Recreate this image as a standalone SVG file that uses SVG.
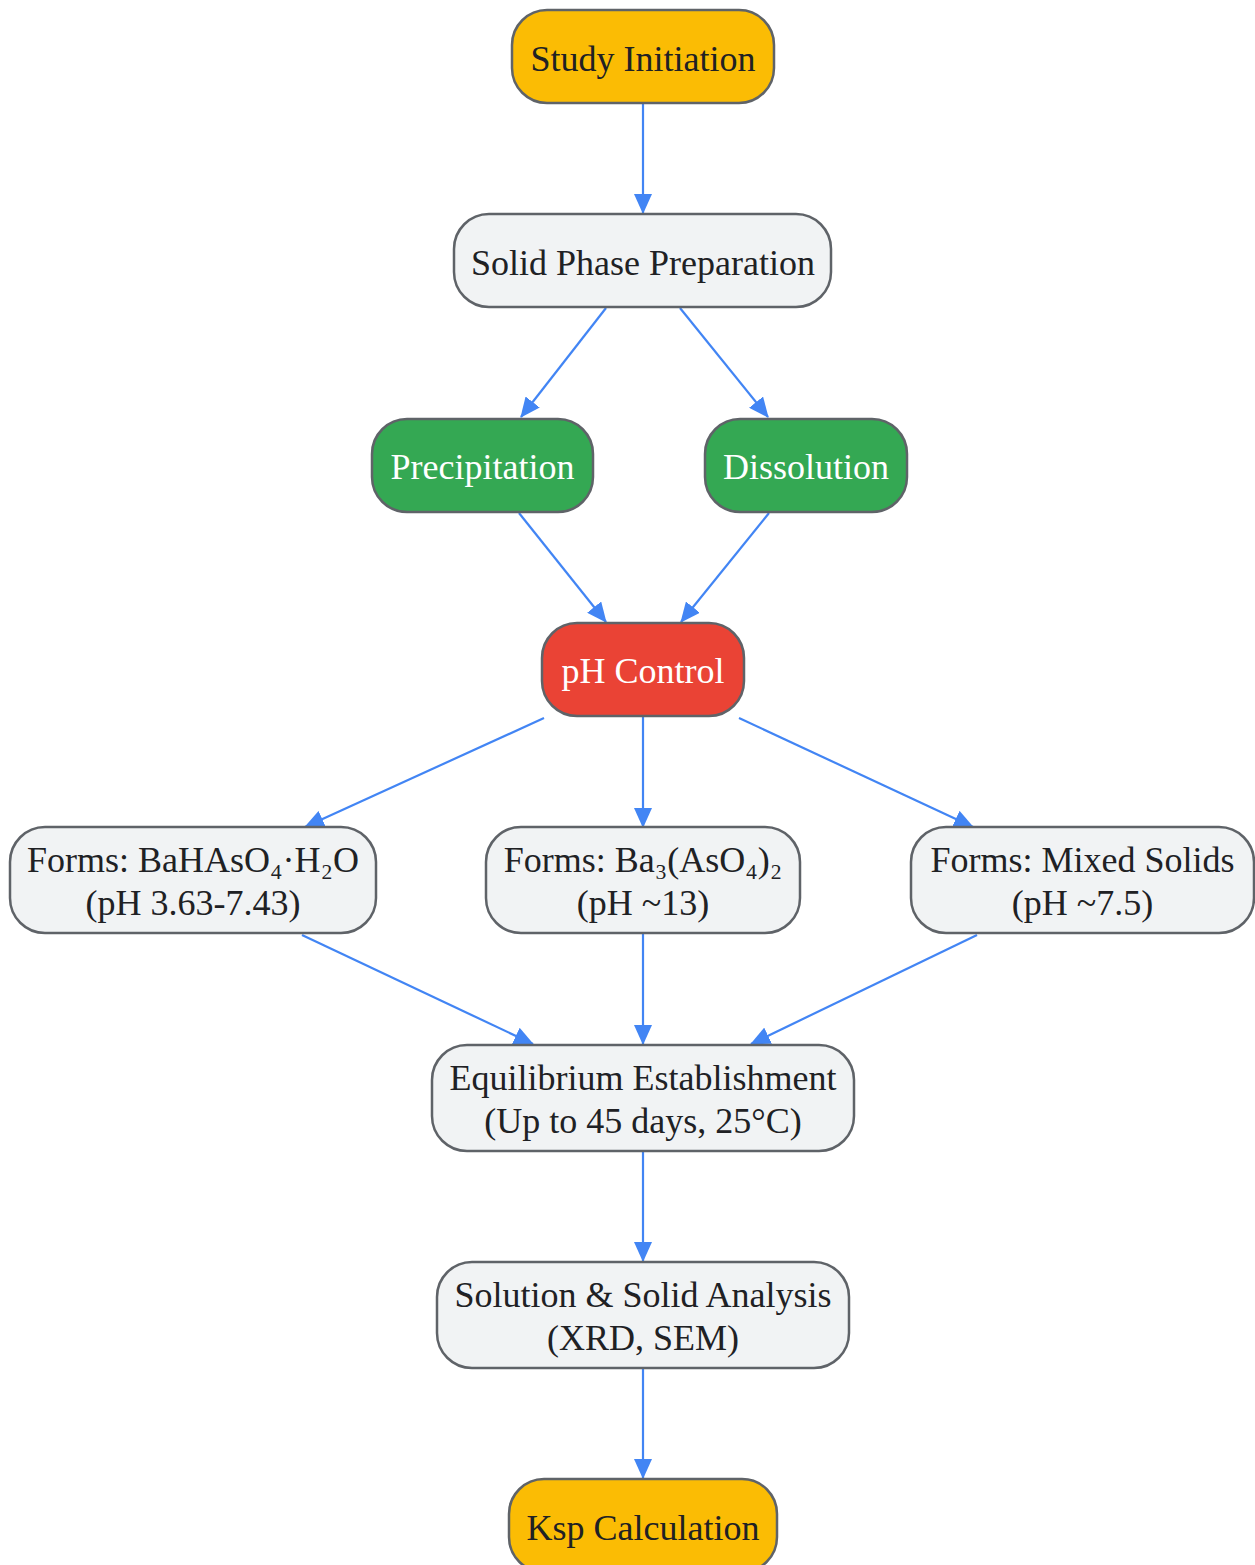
<svg xmlns="http://www.w3.org/2000/svg" width="1255" height="1565" viewBox="0 0 1255 1565">
<style>
.box{stroke:#5f6368;stroke-width:2.5}
.y{fill:#FBBC04}.g{fill:#34A853}.r{fill:#EA4335}.w{fill:#F1F3F4}
text{font-family:"Liberation Serif","Times New Roman",serif;font-size:36px;text-anchor:middle;fill:#202124}
.lt{fill:#ffffff}
.e{stroke:#4285F4;stroke-width:2.2;fill:none;marker-end:url(#ah)}
</style>
<defs>
<marker id="ah" markerUnits="userSpaceOnUse" markerWidth="20" markerHeight="18" refX="19" refY="9" orient="auto">
<path d="M0,0 L20,9 L0,18 Z" fill="#4285F4"/>
</marker>
</defs>
<rect width="1255" height="1565" fill="#ffffff"/>
<g id="connectors">
<path class="e" d="M643,104 L643,213"/>
<path class="e" d="M606,308 L521,417"/>
<path class="e" d="M680,308 L768,417"/>
<path class="e" d="M519,513 L606,622"/>
<path class="e" d="M769,513 L681,622"/>
<path class="e" d="M544,718 L305,827"/>
<path class="e" d="M643,717 L643,827"/>
<path class="e" d="M739,718 L973,827"/>
<path class="e" d="M302,935 L533,1044"/>
<path class="e" d="M643,934 L643,1044"/>
<path class="e" d="M977,935 L751,1044"/>
<path class="e" d="M643,1152 L643,1261"/>
<path class="e" d="M643,1369 L643,1478"/>
</g>
<g id="n1"><rect class="box y" x="512" y="10" width="262" height="93" rx="35"/><text x="643" y="71">Study Initiation</text></g>
<g id="n2"><rect class="box w" x="454" y="214" width="377" height="93" rx="35"/><text x="643" y="275">Solid Phase Preparation</text></g>
<g id="n3"><rect class="box g" x="372" y="419" width="221" height="93" rx="35"/><text class="lt" x="482.5" y="479">Precipitation</text></g>
<g id="n4"><rect class="box g" x="705" y="419" width="202" height="93" rx="35"/><text class="lt" x="806" y="479">Dissolution</text></g>
<g id="n5"><rect class="box r" x="542" y="623" width="202" height="93" rx="35"/><text class="lt" x="643" y="683">pH Control</text></g>
<g id="n6"><rect class="box w" x="10" y="827" width="366" height="106" rx="35"/><text x="193" y="872">Forms: BaHAsO₄·H₂O</text><text x="193" y="915">(pH 3.63-7.43)</text></g>
<g id="n7"><rect class="box w" x="486" y="827" width="314" height="106" rx="35"/><text x="643" y="872">Forms: Ba₃(AsO₄)₂</text><text x="643" y="915">(pH ~13)</text></g>
<g id="n8"><rect class="box w" x="911" y="827" width="343" height="106" rx="35"/><text x="1082.5" y="872">Forms: Mixed Solids</text><text x="1082.5" y="915">(pH ~7.5)</text></g>
<g id="n9"><rect class="box w" x="432" y="1045" width="422" height="106" rx="35"/><text x="643" y="1090">Equilibrium Establishment</text><text x="643" y="1133">(Up to 45 days, 25°C)</text></g>
<g id="n10"><rect class="box w" x="437" y="1262" width="412" height="106" rx="35"/><text x="643" y="1307">Solution &amp; Solid Analysis</text><text x="643" y="1350">(XRD, SEM)</text></g>
<g id="n11"><rect class="box y" x="509" y="1479" width="268" height="93" rx="35"/><text x="643" y="1540">Ksp Calculation</text></g>
</svg>
